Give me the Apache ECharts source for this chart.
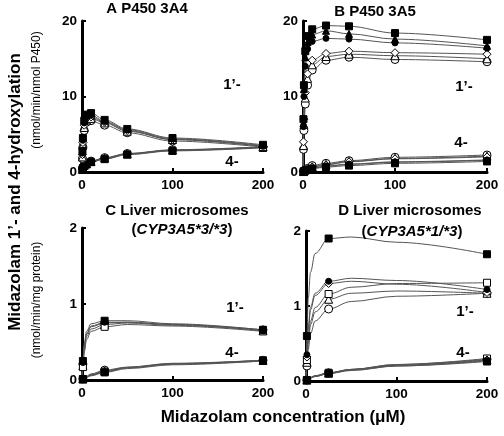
<!DOCTYPE html>
<html><head><meta charset="utf-8">
<script src="https://cdn.jsdelivr.net/npm/echarts@6/dist/echarts.min.js"></script>
<style>html,body{margin:0;padding:0;background:#fff}#c{width:504px;height:436px}</style>
</head><body><div id="c"></div>
<script>
// ---- Panel A: P450 3A4 ----
const A_x  = [0, 0.5, 1, 2.5, 5, 10, 25, 50, 100, 200];
const A_mk = [0, 1, 1, 1, 1, 1, 1, 1, 1, 1];
const A1_sq = [0, 2.8, 4.5, 6.8, 7.6, 7.8, 6.9, 5.7, 4.5, 3.6];
const A1_ci = [0, 2.5, 4.2, 6.5, 7.3, 7.5, 6.7, 5.6, 4.4, 3.5];
const A1_dm = [0, 2.3, 3.9, 6.2, 7.1, 7.3, 6.6, 5.5, 4.3, 3.4];
const A1_ot = [0, 2.0, 3.6, 5.9, 6.9, 7.1, 6.5, 5.4, 4.3, 3.4];
const A1_oc = [0, 1.8, 3.3, 5.5, 6.6, 6.8, 6.2, 5.2, 4.1, 3.3];
const A4_sq = [0, 0.3, 0.5, 0.8, 1.0, 1.3, 1.7, 2.3, 2.8, 3.2];
const A4_ci = [0, 0.3, 0.55, 0.85, 1.05, 1.35, 1.75, 2.35, 2.85, 3.25];
const A4_dm = [0, 0.35, 0.6, 0.9, 1.1, 1.4, 1.8, 2.4, 2.9, 3.3];
const A4_ot = [0, 0.35, 0.6, 0.9, 1.1, 1.4, 1.85, 2.4, 2.9, 3.3];
const A4_oc = [0, 0.4, 0.65, 0.95, 1.15, 1.45, 1.9, 2.45, 2.95, 3.35];
// ---- Panel B: P450 3A5 ----
const B_x  = [0, 0.5, 1, 2.5, 5, 10, 25, 50, 100, 200];
const B_mk = [0, 1, 1, 1, 1, 1, 1, 1, 1, 1];
const B1_sq  = [0, 7, 11.5, 16, 18.0, 18.9, 19.4, 19.3, 18.4, 17.5];
const B1_tri = [0, 6.5, 11, 15.2, 17.2, 18.2, 18.7, 18.3, 17.6, 16.7];
const B1_ci  = [0, 6, 10, 14, 16.3, 17.3, 17.7, 17.6, 17.1, 16.4];
const B1_dm  = [0, 4, 7, 10.5, 13, 14.8, 15.7, 16.0, 15.8, 15.6];
const B1_ot  = [0, 3.5, 6.3, 9.8, 12.4, 14.2, 15.3, 15.6, 15.4, 15.0];
const B1_oc  = [0, 3.0, 5.5, 9.0, 11.5, 13.5, 14.8, 15.2, 14.9, 14.6];
const B4_sq  = [0, 0.05, 0.1, 0.2, 0.3, 0.45, 0.65, 0.85, 1.15, 1.4];
const B4_tri = [0, 0.05, 0.1, 0.22, 0.33, 0.5, 0.75, 1.0, 1.3, 1.55];
const B4_ci  = [0, 0.05, 0.1, 0.22, 0.35, 0.52, 0.8, 1.05, 1.35, 1.6];
const B4_dm  = [0, 0.06, 0.12, 0.25, 0.4, 0.65, 0.95, 1.35, 1.75, 2.0];
const B4_ot  = [0, 0.06, 0.12, 0.27, 0.42, 0.7, 1.0, 1.4, 1.8, 2.1];
const B4_oc  = [0, 0.07, 0.14, 0.3, 0.48, 0.85, 1.15, 1.5, 1.95, 2.25];
// ---- Panel C: Liver microsomes CYP3A5*3/*3 ----
const C_x  = [0, 1, 2.5, 5, 10, 25, 50, 100, 200];
const C_mk = [0, 1, 0, 0, 0, 1, 0, 0, 1];
const C1_sq = [0, 0.25, 0.48, 0.64, 0.74, 0.78, 0.78, 0.74, 0.66];
const C1_ci = [0, 0.23, 0.45, 0.61, 0.71, 0.76, 0.76, 0.73, 0.65];
const C1_os = [0, 0.17, 0.37, 0.53, 0.64, 0.70, 0.73, 0.71, 0.64];
const C1_ot = [0, 0.19, 0.40, 0.57, 0.67, 0.73, 0.75, 0.72, 0.65];
const C1_oc = [0, 0.21, 0.43, 0.60, 0.70, 0.75, 0.76, 0.73, 0.66];
const C4_sq = [0, 0.01, 0.02, 0.035, 0.055, 0.10, 0.15, 0.20, 0.25];
const C4_ci = [0, 0.012, 0.025, 0.04, 0.065, 0.11, 0.16, 0.21, 0.25];
const C4_os = [0, 0.012, 0.025, 0.04, 0.065, 0.11, 0.16, 0.21, 0.26];
const C4_ot = [0, 0.013, 0.027, 0.045, 0.07, 0.12, 0.165, 0.215, 0.26];
const C4_oc = [0, 0.015, 0.03, 0.05, 0.08, 0.13, 0.17, 0.22, 0.26];
// ---- Panel D: Liver microsomes CYP3A5*1/*3 ----
const D_x  = [0, 1, 2.5, 5, 10, 25, 50, 100, 200];
const D_mk = [0, 1, 0, 0, 0, 1, 0, 0, 1];
const D1_sq = [0, 0.6, 1.1, 1.45, 1.7, 1.9, 1.92, 1.85, 1.69];
const D1_ci = [0, 0.35, 0.72, 0.98, 1.17, 1.33, 1.37, 1.34, 1.22];
const D1_dm = [0, 0.32, 0.68, 0.95, 1.14, 1.30, 1.33, 1.29, 1.18];
const D1_os = [0, 0.28, 0.55, 0.80, 0.98, 1.16, 1.25, 1.30, 1.31];
const D1_ot = [0, 0.25, 0.50, 0.75, 0.92, 1.09, 1.17, 1.20, 1.17];
const D1_oc = [0, 0.20, 0.42, 0.63, 0.80, 0.96, 1.06, 1.13, 1.17];
const D4_sq = [0, 0.01, 0.02, 0.04, 0.06, 0.10, 0.14, 0.20, 0.26];
const D4_ci = [0, 0.01, 0.02, 0.04, 0.06, 0.10, 0.145, 0.2, 0.27];
const D4_dm = [0, 0.012, 0.025, 0.045, 0.065, 0.105, 0.15, 0.21, 0.28];
const D4_os = [0, 0.013, 0.027, 0.047, 0.07, 0.11, 0.155, 0.22, 0.30];
const D4_ot = [0, 0.012, 0.025, 0.045, 0.065, 0.105, 0.15, 0.21, 0.28];
const D4_oc = [0, 0.013, 0.027, 0.047, 0.07, 0.11, 0.155, 0.22, 0.29];

// tick labels / ranges
const xTicks = [0, 100, 200];
const yTicksP450 = [0, 10, 20];
const yTicksMic = [0, 1, 2];

const SYM = {
  sq:['rect',true,7], tri:['triangle',true,7], ci:['circle',true,6],
  dm:['diamond',false,8], ot:['triangle',false,8], oc:['circle',false,8], os:['rect',false,7]
};
const panels = [
  {x:A_x, mk:A_mk, s1:{oc:A1_oc, ot:A1_ot, dm:A1_dm, ci:A1_ci, sq:A1_sq}, s4:{oc:A4_oc, ot:A4_ot, dm:A4_dm, ci:A4_ci, sq:A4_sq}},
  {x:B_x, mk:B_mk, s1:{oc:B1_oc, ot:B1_ot, dm:B1_dm, ci:B1_ci, tri:B1_tri, sq:B1_sq}, s4:{oc:B4_oc, ot:B4_ot, dm:B4_dm, ci:B4_ci, tri:B4_tri, sq:B4_sq}},
  {x:C_x, mk:C_mk, s1:{oc:C1_oc, ot:C1_ot, os:C1_os, ci:C1_ci, sq:C1_sq}, s4:{oc:C4_oc, ot:C4_ot, os:C4_os, ci:C4_ci, sq:C4_sq}},
  {x:D_x, mk:D_mk, s1:{oc:D1_oc, ot:D1_ot, os:D1_os, dm:D1_dm, ci:D1_ci, sq:D1_sq}, s4:{oc:D4_oc, ot:D4_ot, os:D4_os, dm:D4_dm, ci:D4_ci, sq:D4_sq}}
];

const FONT = 'Liberation Sans, Arial, Helvetica, sans-serif';
const grids = [
  {left:82, top:21, width:181, height:151},
  {left:303, top:21, width:184, height:151},
  {left:82, top:228, width:181, height:152},
  {left:306, top:231, width:181, height:150}
];
const xAxes = grids.map((g,i)=>({
  type:'value', gridIndex:i, min:xTicks[0], max:xTicks[2], interval:xTicks[1]-xTicks[0],
  axisLine:{lineStyle:{color:'#000', width:3}},
  axisTick:{inside:true, length:4, lineStyle:{color:'#000', width:2}},
  axisLabel:{color:'#000', fontWeight:'bold', fontSize:13.5, fontFamily:FONT, margin:6},
  splitLine:{show:false}
}));
const yAxes = grids.map((g,i)=>{
  const t = i<2 ? yTicksP450 : yTicksMic;
  return {
    type:'value', gridIndex:i, min:t[0], max:t[2], interval:t[1]-t[0],
    axisLine:{show:true, lineStyle:{color:'#000', width:3}},
    axisTick:{show:true, inside:true, length:4, lineStyle:{color:'#000', width:2},
      interval:function(idx, v){ return idx===2; }},
    axisLabel:{color:'#000', fontWeight:'bold', fontSize:13.5, fontFamily:FONT, margin:5},
    splitLine:{show:false}
  };
});

const series = [];
panels.forEach((p, pi)=>{
  ['s4','s1'].forEach(m=>{
    Object.keys(p[m]).forEach(k=>{
      const vals = p[m][k];
      series.push({
        type:'line', xAxisIndex:pi, yAxisIndex:pi, silent:true, z:2,
        smooth:0.35, smoothMonotone:'x', showSymbol:false,
        lineStyle:{color:'#555', width:1},
        data:p.x.map((xv,i)=>[xv, vals[i]])
      });
    });
  });
  ['s4','s1'].forEach(m=>{
    Object.keys(p[m]).forEach(k=>{
      const vals = p[m][k];
      const s = SYM[k];
      series.push({
        type:'scatter', xAxisIndex:pi, yAxisIndex:pi, silent:true, z:3,
        symbol:s[0], symbolSize:s[2],
        itemStyle:{color:s[1]?'#000':'#fff', borderColor:'#000', borderWidth:1, opacity:1},
        data:p.x.map((xv,i)=>[xv, vals[i]]).filter((d,i)=>p.mk[i])
      });
    });
  });
});

function txt(x, y, text, font, extra){
  return Object.assign({type:'text', x:x, y:y, z:10,
    style:{text:text, font:font, fill:'#000', textAlign:'center', textVerticalAlign:'middle'}}, extra||{});
}
const TF = 'bold 15px ' + FONT;
const LF = 'bold 15px ' + FONT;
const graphic = [
  txt(147, 9, 'A P450 3A4', TF),
  txt(375, 12, 'B P450 3A5', TF),
  txt(177, 211, 'C Liver microsomes', TF),
  {type:'text', x:182, y:230, z:10, style:{text:'{n|(}{i|CYP3A5*3/*3}{n|)}', textAlign:'center', textVerticalAlign:'middle',
    rich:{n:{font:TF, fill:'#000'}, i:{font:'italic bold 15px '+FONT, fill:'#000'}}}},
  txt(410, 211, 'D Liver microsomes', TF),
  {type:'text', x:412, y:232, z:10, style:{text:'{n|(}{i|CYP3A5*1/*3}{n|)}', textAlign:'center', textVerticalAlign:'middle',
    rich:{n:{font:TF, fill:'#000'}, i:{font:'italic bold 15px '+FONT, fill:'#000'}}}},
  txt(232, 85, '1\u2019-', LF), txt(232, 162, '4-', LF),
  txt(464, 87, '1\u2019-', LF), txt(461, 143, '4-', LF),
  txt(235, 308, '1\u2019-', LF), txt(232, 353, '4-', LF),
  txt(465, 312, '1\u2019-', LF), txt(463, 353, '4-', LF),
  txt(15, 192, 'Midazolam 1\u2019- and 4-hydroxylation', 'bold 17px ' + FONT, {rotation:Math.PI/2}),
  txt(37, 90, '(nmol/min/nmol P450)', '12px ' + FONT, {rotation:Math.PI/2}),
  txt(37, 300, '(nmol/min/mg protein)', '12px ' + FONT, {rotation:Math.PI/2}),
  txt(283, 417, 'Midazolam concentration (\u03bcM)', 'bold 17px ' + FONT)
];

const chart = echarts.init(document.getElementById('c'));
chart.setOption({
  animation:false,
  backgroundColor:'#fff',
  grid:grids, xAxis:xAxes, yAxis:yAxes, series:series, graphic:graphic
});
</script></body></html>
